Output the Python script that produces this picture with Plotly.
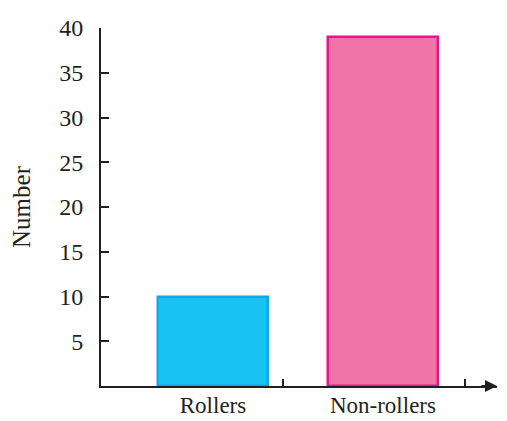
import plotly.graph_objects as go

categories = ["Rollers", "Non-rollers"]
values = [10, 39]
y_ticks = [5, 10, 15, 20, 25, 30, 35, 40]
x_ticks_minor = [0.41, 1.48]

fill_colors = ["#18C2F1", "#F074A8"]
line_colors = ["#12A8E6", "#E6168D"]

FONT = "Liberation Serif, DejaVu Serif, serif"
AX = "#231F20"
xf = dict(family=FONT, size=23, color=AX)
yf = dict(family=FONT, size=24, color=AX)

fig = go.Figure()
fig.add_trace(go.Bar(
    x=list(range(len(categories))), y=values, width=0.647,
    marker=dict(color=fill_colors, line=dict(color=line_colors, width=2.5)),
    showlegend=False,
))
fig.add_trace(go.Scatter(x=x_ticks_minor, y=[0, 0], xaxis="x2", mode="markers",
                         marker=dict(opacity=0), showlegend=False, hoverinfo="skip"))

xr = [-0.659, 1.671]
# page body has an 8px margin, so the figure is 8px smaller than the window
fig.update_layout(
    width=499, height=413,
    margin=dict(l=93, r=10, t=20, b=35),
    paper_bgcolor="white", plot_bgcolor="white",
    font=yf,
    xaxis=dict(range=xr, tickvals=list(range(len(categories))), ticktext=categories,
               tickfont=xf, ticks="", showgrid=False, zeroline=False, showline=True,
               linecolor=AX, linewidth=2, fixedrange=True, automargin=False,
               ticklabelstandoff=-3),
    xaxis2=dict(range=xr, overlaying="x", tickvals=x_ticks_minor, ticks="inside",
                ticklen=7, tickwidth=1.5, tickcolor=AX, showticklabels=False,
                showgrid=False, zeroline=False, showline=False, side="bottom",
                automargin=False),
    yaxis=dict(range=[0, 40], tickvals=y_ticks, ticks="inside", ticklen=8,
               tickwidth=2, tickcolor=AX, showgrid=False, zeroline=False,
               tickfont=yf, automargin=False,
               showline=True, linecolor=AX, linewidth=2, ticklabelstandoff=11,
               title=dict(text="Number", standoff=22, font=dict(family=FONT, size=25, color=AX))),
    bargap=0,
)
fig.add_annotation(x=1, y=0, xref="paper", yref="paper", ax=-20, ay=0,
                   showarrow=True, arrowhead=2, arrowsize=1.2, arrowwidth=2,
                   arrowcolor=AX, text=" ")
fig.write_html("out.html")
